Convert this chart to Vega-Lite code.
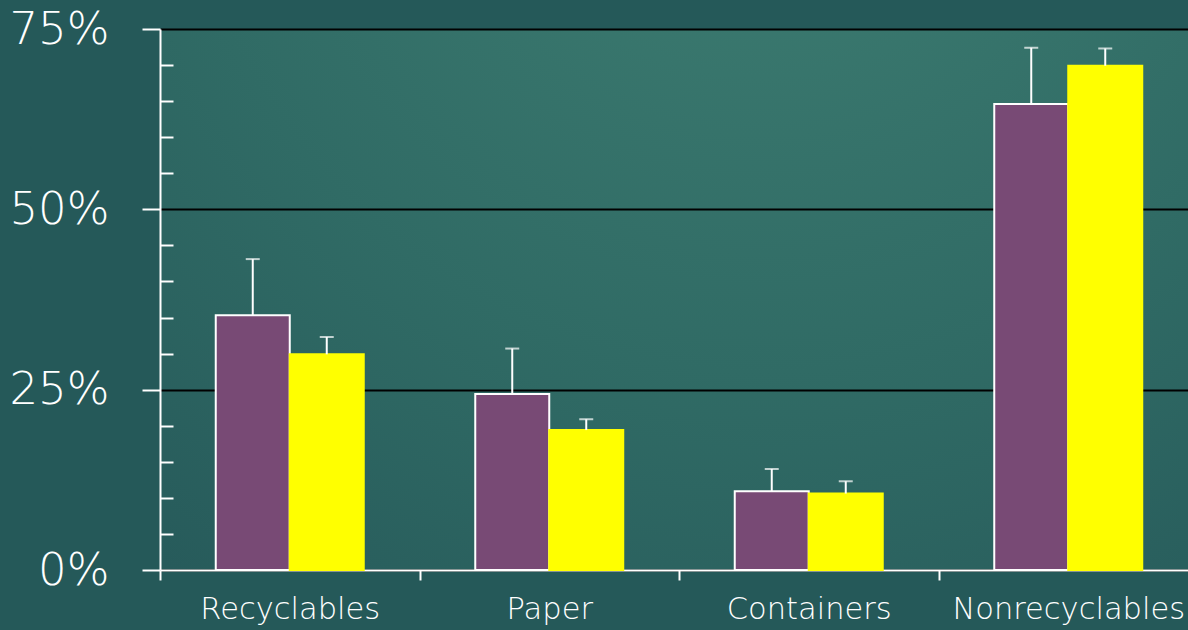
{
  "$schema": "https://vega.github.io/schema/vega-lite/v6.json",
  "autosize": "none",
  "padding": {"left": 160, "top": 29, "right": 0, "bottom": 60},
  "width": 1038,
  "height": 541,
  "background": "#255959",
  "config": {
    "view": {
      "stroke": null,
      "fill": {
        "gradient": "radial",
        "x1": 0.58, "y1": 0.0, "r1": 0.0,
        "x2": 0.58, "y2": 0.0, "r2": 0.95,
        "stops": [
          {"offset": 0, "color": "#3f7f73"},
          {"offset": 0.6, "color": "#306b65"},
          {"offset": 1, "color": "#275b5b"}
        ]
      }
    },
    "axis": {"labelFont": "DejaVu Sans", "labelFontWeight": 200, "labelColor": "white"}
  },
  "data": {
    "values": [
      {"category": "Recyclables", "series": "Series 1", "value": 35.3, "upper": 43.1},
      {"category": "Recyclables", "series": "Series 2", "value": 29.9, "upper": 32.3},
      {"category": "Paper", "series": "Series 1", "value": 24.4, "upper": 30.7},
      {"category": "Paper", "series": "Series 2", "value": 19.4, "upper": 20.9},
      {"category": "Containers", "series": "Series 1", "value": 10.9, "upper": 14.0},
      {"category": "Containers", "series": "Series 2", "value": 10.6, "upper": 12.3},
      {"category": "Nonrecyclables", "series": "Series 1", "value": 64.6, "upper": 72.4},
      {"category": "Nonrecyclables", "series": "Series 2", "value": 69.9, "upper": 72.3}
    ]
  },
  "encoding": {
    "x": {
      "field": "category", "type": "nominal",
      "sort": ["Recyclables", "Paper", "Containers", "Nonrecyclables"],
      "scale": {"paddingInner": 0, "paddingOuter": 0},
      "axis": {
        "title": null, "labelAngle": 0, "labelFontSize": 30.5, "labelPadding": 14,
        "tickBand": "extent", "tickSize": 10, "tickColor": "white", "tickWidth": 2,
        "domainColor": "white", "domainWidth": 2, "labelLimit": 400
      }
    },
    "xOffset": {
      "field": "series", "type": "nominal", "sort": ["Series 1", "Series 2"],
      "scale": {"paddingInner": 0, "paddingOuter": 0.7534}
    }
  },
  "layer": [
    {
      "mark": {"type": "bar", "strokeWidth": 2},
      "encoding": {
        "y": {
          "field": "value", "type": "quantitative",
          "scale": {"domain": [0, 75], "nice": false},
          "axis": {
            "title": null, "values": [0, 25, 50, 75],
            "labelExpr": "datum.value + '%'", "labelFontSize": 45, "labelPadding": 33,
            "tickSize": 18, "tickColor": "white", "tickWidth": 2,
            "domainColor": "white", "domainWidth": 2,
            "grid": true, "gridColor": "black", "gridWidth": 2
          }
        },
        "color": {
          "field": "series", "type": "nominal",
          "scale": {"domain": ["Series 1", "Series 2"], "range": ["#784a75", "#ffff00"]},
          "legend": null
        },
        "stroke": {
          "field": "series", "type": "nominal",
          "scale": {"domain": ["Series 1", "Series 2"], "range": ["white", "#ffff00"]},
          "legend": null
        }
      }
    },
    {
      "mark": {"type": "rule", "color": "white", "strokeWidth": 2},
      "encoding": {
        "y": {
          "field": "value", "type": "quantitative",
          "axis": {
            "orient": "right", "offset": -1038, "title": null,
            "values": [5, 10, 15, 20, 30, 35, 40, 45, 55, 60, 65, 70],
            "labels": false, "domain": false, "grid": false,
            "tickSize": 13, "tickColor": "white", "tickWidth": 2
          }
        },
        "y2": {"field": "upper"}
      }
    },
    {
      "mark": {"type": "tick", "color": "white", "thickness": 2, "size": 14},
      "encoding": {
        "y": {"field": "upper", "type": "quantitative", "axis": null}
      }
    }
  ],
  "resolve": {"scale": {"y": "shared"}, "axis": {"y": "independent"}}
}
